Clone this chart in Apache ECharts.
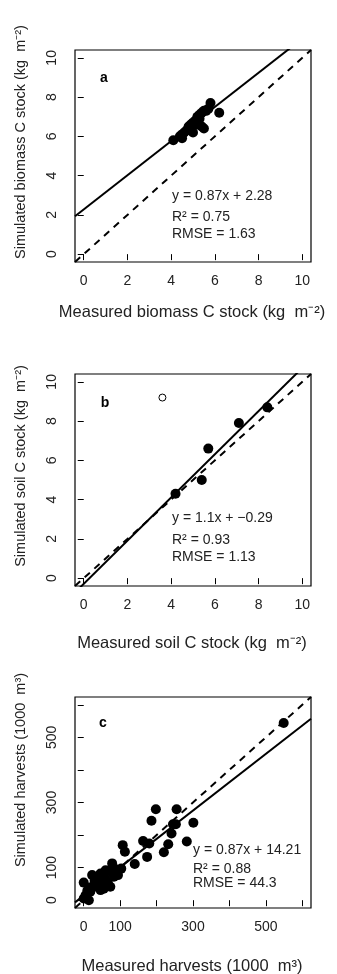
<!DOCTYPE html>
<html><head><meta charset="utf-8">
<script src="https://cdn.jsdelivr.net/npm/echarts@6/dist/echarts.min.js"></script>
<style>html,body{margin:0;padding:0;background:#fff}#c{width:337px;height:974px}</style>
</head><body><div id="c"></div>
<script>
// Panel a: biomass C stock (kg m-2)
const aMeasured  = [4.1, 4.5, 4.6, 4.7, 4.8, 4.9, 5.0, 5.0, 5.1, 5.2, 5.2, 5.3, 5.3, 5.4, 5.4, 5.5, 5.5, 5.6, 5.7, 5.8, 6.2, 4.5, 4.4, 4.9];
const aSimulated = [5.8, 5.9, 6.2, 6.3, 6.5, 6.4, 6.7, 6.2, 6.8, 6.6, 7.0, 6.9, 7.1, 6.5, 7.2, 6.4, 7.3, 7.3, 7.4, 7.7, 7.2, 6.1, 6.0, 6.6];
// Panel b: soil C stock (kg m-2)
const bMeasured  = [4.2, 5.4, 5.7, 7.1, 8.4];
const bSimulated = [4.3, 5.0, 6.6, 7.9, 8.7];
const bOutlierMeasured  = [3.6];
const bOutlierSimulated = [9.2];
// Panel c: harvests (1000 m3)
const cMeasured  = [0, 0, 5, 14, 18, 23, 28, 37, 46, 46, 57, 60, 66, 73, 78, 83, 94, 103, 107, 113, 140, 163, 174, 180, 186, 198, 220, 232, 241, 245, 253, 255, 283, 301, 549, 30, 50, 70, 88, 20, 55, 10];
const cSimulated = [54, 5, 15, 0, 26, 77, 41, 56, 82, 31, 67, 92, 56, 41, 113, 72, 77, 97, 169, 149, 111, 182, 133, 174, 244, 279, 147, 172, 205, 233, 233, 279, 180, 238, 544, 60, 50, 90, 95, 40, 35, 30];
// Fitted lines
const fitSlope     = [0.87, 1.1, 0.87];
const fitIntercept = [2.28, -0.29, 14.21];
const fitR2        = ['0.75', '0.93', '0.88'];
const fitRMSE      = ['1.63', '1.13', '44.3'];
const panelLetters = ['a', 'b', 'c'];
// Axes
const kgTicks = [0, 2, 4, 6, 8, 10];
const harvestTicks = [0, 100, 200, 300, 400, 500, 600];
const harvestLabels = [0, 100, 300, 500];
const xTitles = ['Measured biomass C stock (kg  m\u207B\u00B2)', 'Measured soil C stock (kg  m\u207B\u00B2)', 'Measured harvests (1000  m\u00B3)'];
const yTitles = ['Simulated biomass C stock (kg  m\u207B\u00B2)', 'Simulated soil C stock (kg  m\u207B\u00B2)', 'Simulated harvests (1000  m\u00B3)'];

const FONT = "'Liberation Sans', Arial, Helvetica, sans-serif";
const ranges = [[-0.4, 10.4], [-0.4, 10.4], [-24, 624]];
const grids = [
  {left: 75, top: 50, width: 236, height: 212},
  {left: 75, top: 374, width: 236, height: 212},
  {left: 75, top: 697, width: 236, height: 211}
];
function axis(i, isY) {
  const ticks = i < 2 ? kgTicks : harvestTicks;
  const labels = i < 2 ? kgTicks : harvestLabels;
  return {
    type: 'value', gridIndex: i, min: ranges[i][0], max: ranges[i][1],
    splitLine: {show: false}, axisLine: {show: false},
    axisTick: {show: true, inside: false, length: 6, customValues: ticks, lineStyle: {color: '#000', width: 1}},
    axisLabel: {show: true, customValues: labels, color: '#222', fontSize: 14, fontFamily: FONT,
      margin: isY ? 16 : 12, rotate: isY ? 90 : 0}
  };
}
const series = [];
const scatterData = [[aMeasured, aSimulated], [bMeasured, bSimulated], [cMeasured, cSimulated]];
for (let i = 0; i < 3; i++) {
  const [lo, hi] = ranges[i];
  series.push({type: 'scatter', xAxisIndex: i, yAxisIndex: i, symbolSize: 10,
    itemStyle: {color: '#000', opacity: 1}, data: scatterData[i][0].map((v, k) => [v, scatterData[i][1][k]])});
  series.push({type: 'line', xAxisIndex: i, yAxisIndex: i, showSymbol: false, clip: true, silent: true,
    lineStyle: {color: '#000', width: 2},
    data: [[lo, fitSlope[i] * lo + fitIntercept[i]], [hi, fitSlope[i] * hi + fitIntercept[i]]]});
  series.push({type: 'line', xAxisIndex: i, yAxisIndex: i, showSymbol: false, clip: true, silent: true,
    lineStyle: {color: '#000', width: 2, type: [7, 6]},
    data: [[lo, lo], [hi, hi]]});
}
series.push({type: 'scatter', xAxisIndex: 1, yAxisIndex: 1, symbolSize: 7,
  itemStyle: {color: '#fff', borderColor: '#000', borderWidth: 1, opacity: 1},
  data: bOutlierMeasured.map((v, k) => [v, bOutlierSimulated[k]])});

const graphic = [];
const xTitleY = [312, 643, 966];
const yTitleY = [142, 466, 770];
const letterPos = [[104, 78], [105, 403], [103, 723]];
const annPos = [[172, [196, 217, 234]], [172, [518, 540, 557]], [193, [850, 869, 883]]];
for (let i = 0; i < 3; i++) {
  graphic.push({type: 'text', x: 192, y: xTitleY[i],
    style: {text: xTitles[i], font: '16.5px ' + FONT, fill: '#222', align: 'center', verticalAlign: 'middle'}});
  graphic.push({type: 'text', x: 21, y: yTitleY[i], rotation: Math.PI / 2,
    style: {text: yTitles[i], font: '14.5px ' + FONT, fill: '#222', align: 'center', verticalAlign: 'middle'}});
  graphic.push({type: 'text', x: letterPos[i][0], y: letterPos[i][1],
    style: {text: panelLetters[i], font: 'bold 14px ' + FONT, fill: '#000', align: 'center', verticalAlign: 'middle'}});
  const [ax, ays] = annPos[i];
  const sign = fitIntercept[i] < 0 ? ' + \u2212' + Math.abs(fitIntercept[i]) : ' + ' + fitIntercept[i];
  const lines = ['y = ' + fitSlope[i] + 'x' + sign, 'R\u00B2 = ' + fitR2[i], 'RMSE = ' + fitRMSE[i]];
  lines.forEach((t, k) => graphic.push({type: 'text', x: ax, y: ays[k],
    style: {text: t, font: '14px ' + FONT, fill: '#222', align: 'left', verticalAlign: 'middle'}}));
}

const chart = echarts.init(document.getElementById('c'), null, {renderer: 'canvas'});
chart.setOption({
  animation: false,
  backgroundColor: '#fff',
  grid: grids.map(g => Object.assign({show: true, borderColor: '#000', borderWidth: 1.2, backgroundColor: 'transparent'}, g)),
  xAxis: [0, 1, 2].map(i => axis(i, false)),
  yAxis: [0, 1, 2].map(i => axis(i, true)),
  series: series,
  graphic: graphic
});
</script></body></html>
